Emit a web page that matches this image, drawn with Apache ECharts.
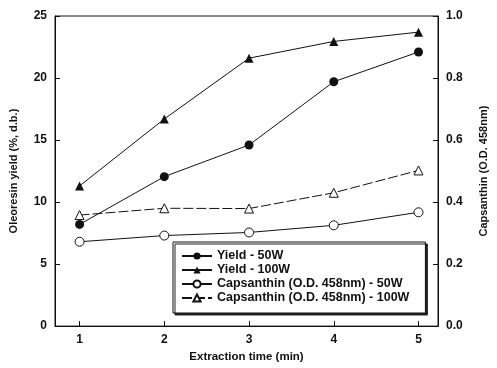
<!DOCTYPE html>
<html>
<head>
<meta charset="utf-8">
<script src="https://cdn.jsdelivr.net/npm/echarts@6/dist/echarts.min.js"></script>
<style>
  html, body { margin: 0; padding: 0; background: #fff; }
  #main { width: 497px; height: 368px; }
</style>
</head>
<body>
<div id="main"></div>
<script>
    // extraction time (min)
    var times = [1, 2, 3, 4, 5];
    // oleoresin yield (%, d.b.) - left axis
    var yield50 = [8.2, 12.05, 14.6, 19.7, 22.1];
    var yield100 = [11.3, 16.7, 21.6, 22.95, 23.7];
    // capsanthin O.D. 458nm - right axis
    var caps50 = [0.272, 0.292, 0.302, 0.325, 0.367];
    var caps100 = [0.358, 0.380, 0.379, 0.430, 0.502];

    var names = ['Yield - 50W', 'Yield - 100W',
        'Capsanthin (O.D. 458nm) - 50W', 'Capsanthin (O.D. 458nm) - 100W'];

    function pairs(vals) {
        return times.map(function (t, i) { return [t, vals[i]]; });
    }

    var font = 'Liberation Sans, Arial, sans-serif';
    var ink = '#111';

    var myChart = echarts.init(document.getElementById('main'));

    var option = {
        animation: false,
        textStyle: { fontFamily: font },
        grid: {
            left: 54, right: 54, top: 16, bottom: 39,
            show: true, borderColor: ink, borderWidth: 1
        },
        legend: {
            orient: 'vertical',
            left: 173, top: 242,
            padding: [7, 16, 8, 8],
            itemGap: 0,
            itemWidth: 30,
            itemHeight: 9,
            backgroundColor: '#fff',
            borderColor: ink,
            borderWidth: 1,
            shadowColor: '#222',
            shadowBlur: 0,
            shadowOffsetX: 2,
            shadowOffsetY: 2,
            textStyle: { fontSize: 12.5, lineHeight: 14, fontWeight: 'bold', color: ink, fontFamily: font },
            data: names
        },
        xAxis: {
            type: 'value',
            min: 0.71, max: 5.23,
            name: 'Extraction time (min)',
            nameLocation: 'middle',
            nameGap: 23,
            nameTextStyle: { fontSize: 11.5, fontWeight: 'bold', color: ink },
            axisLine: { lineStyle: { color: ink } },
            axisTick: { inside: true, length: 5, customValues: times, lineStyle: { color: ink } },
            axisLabel: { customValues: times, margin: 8, fontSize: 12, fontWeight: 'bold', color: ink },
            splitLine: { show: false }
        },
        yAxis: [{
            type: 'value',
            min: 0, max: 25, interval: 5,
            name: 'Oleoresin yield (%, d.b.)',
            nameLocation: 'middle',
            nameGap: 36,
            nameTextStyle: { fontSize: 11, fontWeight: 'bold', color: ink },
            axisLine: { show: true, lineStyle: { color: ink } },
            axisTick: { show: true, inside: true, length: 5, lineStyle: { color: ink } },
            axisLabel: { margin: 8, fontSize: 12, fontWeight: 'bold', color: ink },
            splitLine: { show: false }
        }, {
            type: 'value',
            min: 0, max: 1, interval: 0.2,
            name: 'Capsanthin (O.D. 458nm)',
            nameLocation: 'middle',
            nameGap: 40,
            nameRotate: 90,
            nameTextStyle: { fontSize: 11, fontWeight: 'bold', color: ink },
            axisLine: { show: true, lineStyle: { color: ink } },
            axisTick: { show: true, inside: true, length: 5, lineStyle: { color: ink } },
            axisLabel: {
                margin: 8, fontSize: 12, fontWeight: 'bold', color: ink,
                formatter: function (v) { return v.toFixed(1); }
            },
            splitLine: { show: false }
        }],
        series: [{
            name: names[0], type: 'line', yAxisIndex: 0,
            data: pairs(yield50),
            symbol: 'circle', symbolSize: 9,
            itemStyle: { color: ink },
            lineStyle: { color: ink, width: 1 }
        }, {
            name: names[1], type: 'line', yAxisIndex: 0,
            data: pairs(yield100),
            symbol: 'triangle', symbolSize: 9,
            itemStyle: { color: ink },
            lineStyle: { color: ink, width: 1 }
        }, {
            name: names[2], type: 'line', yAxisIndex: 1,
            data: pairs(caps50),
            symbol: 'circle', symbolSize: 9,
            itemStyle: { color: '#fff', borderColor: ink, borderWidth: 1 },
            lineStyle: { color: ink, width: 1 }
        }, {
            name: names[3], type: 'line', yAxisIndex: 1,
            data: pairs(caps100),
            symbol: 'triangle', symbolSize: 9,
            itemStyle: { color: '#fff', borderColor: ink, borderWidth: 1 },
            lineStyle: { color: ink, width: 1, type: [10, 3] }
        }]
    };

    myChart.setOption(option);
</script>
</body>
</html>
